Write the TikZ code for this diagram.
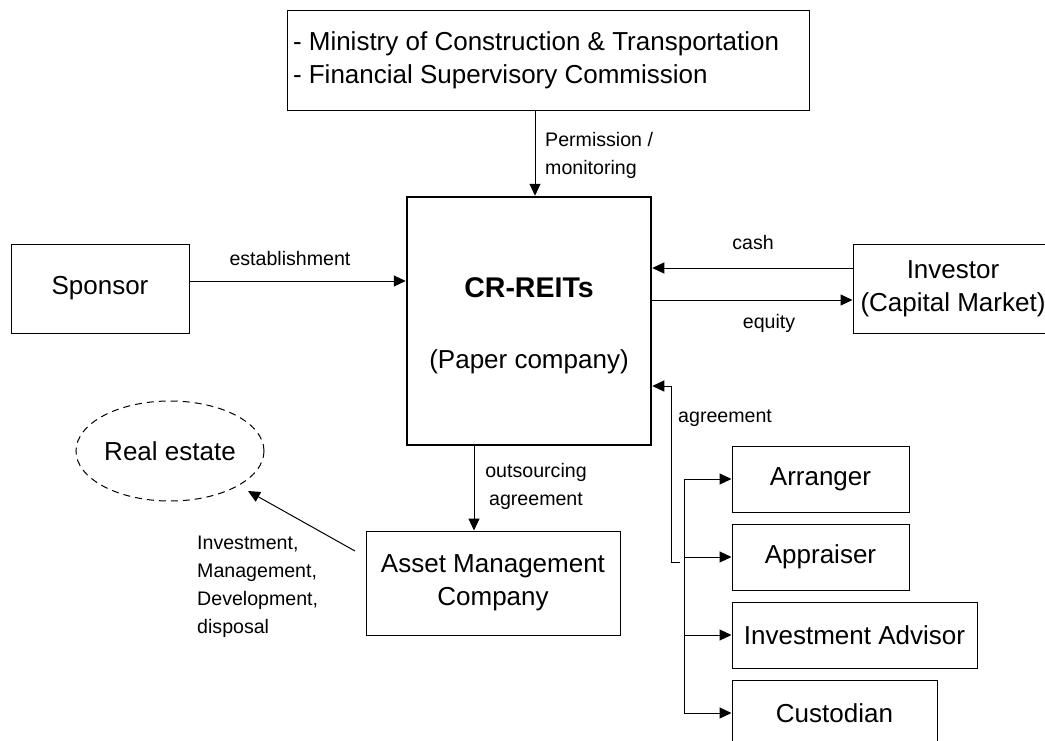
\documentclass[tikz,border=0pt]{standalone}
\usepackage{fontspec}
\setmainfont{Liberation Sans}
\usetikzlibrary{arrows.meta,shapes.geometric}
\newcommand\bigfnt{\fontsize{26}{33}\selectfont}
\newcommand\smallfnt{\fontsize{19.6}{28}\selectfont}
\begin{document}
\begin{tikzpicture}[x=1pt,y=-1pt,
  box/.style={draw,line width=1pt,inner sep=0pt,font=\bigfnt,align=center},
  lbl/.style={inner sep=0pt,font=\smallfnt,align=center},
  arr/.style={line width=1pt,-{Triangle[length=12pt,width=11pt]}},
  ln/.style={line width=1pt}]
\useasboundingbox (0,0) rectangle (1045,740);
% boxes
\node[box,align=flush left,text width=510,minimum width=522,minimum height=100] (reg) at (548,60)
  {- Ministry of Construction \& Transportation\\- Financial Supervisory Commission};
\node[box,line width=2.5pt,minimum width=244,minimum height=248] (cr) at (529,321) {};
\node[inner sep=0pt,font=\fontsize{28.5}{34}\selectfont\bfseries] (crt) at (529,288) {CR-REITs};
\node[inner sep=0pt,font=\bigfnt] (crs) at (529,362) {(Paper company)};
\node[box,minimum width=178,minimum height=89] (sp) at (100,288.5) {Sponsor};
\node[box,minimum width=200,minimum height=89] (inv) at (953,288.5) {Investor\\(Capital Market)};
\node[box,minimum width=254,minimum height=104] (amc) at (493,583) {Asset Management\\Company};
\node[draw,ellipse,dash pattern=on 7pt off 5pt,line width=1pt,inner sep=0pt,
  minimum width=188,minimum height=100,font=\bigfnt] (re) at (170,451) {Real estate};
\node[box,minimum width=177,minimum height=66] (arg) at (820.5,479) {Arranger};
\node[box,minimum width=177,minimum height=66] (app) at (820.5,557) {Appraiser};
\node[box,minimum width=245,minimum height=66] (adv) at (854.5,635) {Investment Advisor};
\node[box,minimum width=205,minimum height=66] (cus) at (834.5,713) {Custodian};
% coordinates
\coordinate (xa) at (535,0);
\coordinate (ycash) at (0,268);
\coordinate (yeq) at (0,300);
\coordinate (ag0) at (680,562);
\coordinate (agc) at (671,386);
\coordinate (bx) at (684,0);
\coordinate (ox) at (474,0);
\coordinate (ra) at (355,551);
\coordinate (rb) at (248,491);
% connectors
\draw[arr] (reg.south -| xa) -- (cr.north -| xa);
\draw[arr] ([yshift=7.5pt]sp.east) -- ([yshift=7.5pt]sp.east -| cr.west);
\draw[arr] (inv.west |- ycash) -- (cr.east |- ycash);
\draw[arr] (cr.east |- yeq) -- (inv.west |- yeq);
\draw[arr] (ag0) -| (agc) -- (cr.east |- agc);
\draw[ln] (bx |- arg.west) -- (bx |- cus.west);
\foreach \n in {arg,app,adv,cus} \draw[arr] (bx |- \n.west) -- (\n.west);
\draw[arr] (cr.south -| ox) -- (amc.north -| ox);
\draw[arr] (ra) -- (rb);
% labels
\node[lbl,align=left,anchor=west] (lperm) at (545,155) {Permission /\\monitoring};
\node[lbl] (lest) at (290,258) {establishment};
\node[lbl] (lcash) at (753,242) {cash};
\node[lbl] (leq) at (769,323) {equity};
\node[lbl,anchor=west] (lag) at (678,418) {agreement};
\node[lbl] (lout) at (536,486) {outsourcing\\agreement};
\node[lbl,align=left,anchor=west] (linv) at (197,587) {Investment,\\Management,\\Development,\\disposal};
\end{tikzpicture}
\end{document}
